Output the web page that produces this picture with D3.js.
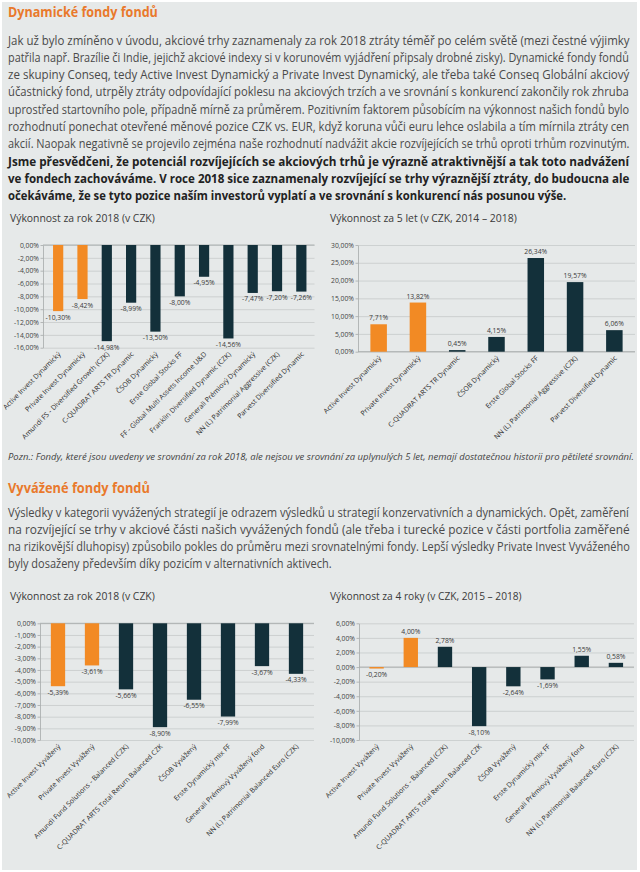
<!DOCTYPE html>
<html>
<head>
<meta charset="utf-8">
<title>Dynamické a vyvážené fondy fondů</title>
<style>
  body { margin: 0; background: #fff; font-family: "Open Sans", sans-serif; }
  svg { display: block; }
  .grid line { stroke: #c6caca; stroke-width: 0.8; }
  .grid .domain { display: none; }
  .axis path, .axis line { stroke: #a6aaaa; stroke-width: 0.8; }
  .axis text { fill: #444; font-size: 6.8px; font-family: "Open Sans", sans-serif; }
</style>
<script src="https://cdn.jsdelivr.net/npm/d3@7"></script>
</head>
<body>
<script>
// ---- texty ----
var dynText = [
  "Jak už bylo zmíněno v úvodu, akciové trhy zaznamenaly za rok 2018 ztráty téměř po celém světě (mezi čestné výjimky",
  "patřila např. Brazílie či Indie, jejichž akciové indexy si v korunovém vyjádření připsaly drobné zisky). Dynamické fondy fondů",
  "ze skupiny Conseq, tedy Active Invest Dynamický a Private Invest Dynamický, ale třeba také Conseq Globální akciový",
  "účastnický fond, utrpěly ztráty odpovídající poklesu na akciových trzích a ve srovnání s konkurencí zakončily rok zhruba",
  "uprostřed startovního pole, případně mírně za průměrem. Pozitivním faktorem působícím na výkonnost našich fondů bylo",
  "rozhodnutí ponechat otevřené měnové pozice CZK vs. EUR, když koruna vůči euru lehce oslabila a tím mírnila ztráty cen",
  "akcií. Naopak negativně se projevilo zejména naše rozhodnutí nadvážit akcie rozvíjejících se trhů oproti trhům rozvinutým."
]
var dynBold = [
  "Jsme přesvědčeni, že potenciál rozvíjejících se akciových trhů je výrazně atraktivnější a tak toto nadvážení",
  "ve fondech zachováváme. V roce 2018 sice zaznamenaly rozvíjející se trhy výraznější ztráty, do budoucna ale",
  "očekáváme, že se tyto pozice naším investorů vyplatí a ve srovnání s konkurencí nás posunou výše."
]
var note = "Pozn.: Fondy, které jsou uvedeny ve srovnání za rok 2018, ale nejsou ve srovnání za uplynulých 5 let, nemají dostatečnou historii pro pětileté srovnání."
var balText = [
  "Výsledky v kategorii vyvážených strategií je odrazem výsledků u strategií konzervativních a dynamických. Opět, zaměření",
  "na rozvíjející se trhy v akciové části našich vyvážených fondů (ale třeba i turecké pozice v části portfolia zaměřené",
  "na rizikovější dluhopisy) způsobilo pokles do průměru mezi srovnatelnými fondy. Lepší výsledky Private Invest Vyváženého",
  "byly dosaženy především díky pozicím v alternativních aktivech."
]

// ---- data grafů ----
var dyn2018Names = ["Active Invest Dynamický", "Private Invest Dynamický", "Amundi FS - Diversified Growth (CZK)",
  "C-QUADRAT ARTS TR Dynamic", "ČSOB Dynamický", "Erste Global Stocks FF", "FF - Global Multi Assets Income U&D",
  "Franklin Diversified Dynamic (CZK)", "Generali Prémiový Dynamický", "NN (L) Patrimonial Aggressive (CZK)",
  "Parvest Diversified Dynamic"]
var dyn2018Values = [-10.30, -8.42, -14.98, -8.99, -13.50, -8.00, -4.95, -14.56, -7.47, -7.20, -7.26]
var dyn2018Ticks = [0, -2, -4, -6, -8, -10, -12, -14, -16]

var dyn5yNames = ["Active Invest Dynamický", "Private Invest Dynamický", "C-QUADRAT ARTS TR Dynamic",
  "ČSOB Dynamický", "Erste Global Stocks FF", "NN (L) Patrimonial Aggressive (CZK)", "Parvest Diversified Dynamic"]
var dyn5yValues = [7.71, 13.82, 0.45, 4.15, 26.34, 19.57, 6.06]
var dyn5yTicks = [0, 5, 10, 15, 20, 25, 30]

var balNames = ["Active Invest Vyvážený", "Private Invest Vyvážený", "Amundi Fund Solutions - Balanced (CZK)",
  "C-QUADRAT ARTS Total Return Balanced CZK", "ČSOB Vyvážený", "Erste Dynamický mix FF",
  "Generali Prémiový Vyvážený fond", "NN (L) Patrimonial Balanced Euro (CZK)"]
var bal2018Values = [-5.39, -3.61, -5.66, -8.90, -6.55, -7.99, -3.67, -4.33]
var bal2018Ticks = [0, -1, -2, -3, -4, -5, -6, -7, -8, -9, -10]
var bal4yValues = [-0.20, 4.00, 2.78, -8.10, -2.64, -1.69, 1.55, 0.58]
var bal4yTicks = [6, 4, 2, 0, -2, -4, -6, -8, -10]

var orange = "#f28a24"
var dark = "#13303a"
var fmt = function(v){ return v.toFixed(2).replace(".", ",").replace(/^-0,00/, "0,00") + "%" }

var W = 640, H = 872
var svg = d3.select("body").append("svg").attr("width", W).attr("height", H)

// podklad stránky
svg.append("rect").attr("x", 2).attr("y", 2).attr("width", W - 5).attr("height", H - 4).attr("fill", "#e6e9e9")

var lineStep = 17.3
var textW = 622

// zúží text na danou šířku (písmo v originále je úzké)
function fitText(t, x, y, w) {
  var n = t.node().getComputedTextLength()
  t.attr("transform", "translate(" + x + "," + y + ") scale(" + (w / n) + ",1)")
  return w / n
}

// odstavec: řádky srovnané na šířku sloupce, poslední řádek se jen zúží
function textBlock(lines, y0, bold, justifyLast) {
  var ratios = []
  var nodes = lines.map(function(t){
    return svg.append("text")
      .attr("font-size", "12.5px")
      .attr("font-weight", bold ? 700 : 400)
      .attr("fill", bold ? "#222" : "#4a4a4a")
      .text(t)
  })
  nodes.forEach(function(n, i){
    if (i < lines.length - 1 || justifyLast) ratios.push(fitText(n, 8, y0 + i * lineStep, textW))
  })
  if (!justifyLast) {
    var last = nodes[nodes.length - 1]
    var s = d3.mean(ratios) * 0.97
    last.attr("transform", "translate(8," + (y0 + (lines.length - 1) * lineStep) + ") scale(" + s + ",1)")
  }
}

function heading(t, y, w) {
  var h = svg.append("text")
    .attr("font-size", "14.5px").attr("font-weight", 700).attr("fill", "#e9792c")
    .text(t)
  fitText(h, 8, y, w)
}

// nadpisy a texty
heading("Dynamické fondy fondů", 17, 150)
textBlock(dynText, 44.5, false, true)
textBlock(dynBold, 44.5 + 7 * lineStep, true, false)

var pozn = svg.append("text")
  .attr("font-size", "9px").attr("font-style", "italic").attr("fill", "#444")
  .text(note)
fitText(pozn, 8, 460, 626)

heading("Vyvážené fondy fondů", 493, 142)
textBlock(balText, 516.5, false, false)

// sloupcový graf
function barChart(o) {
  var g = svg.append("g")

  var title = g.append("text")
    .attr("font-size", "10.5px").attr("fill", "#3a3a3a")
    .text(o.title)
  fitText(title, o.titleX, o.titleY, o.titleW)

  var x = d3.scaleBand().domain(o.names).range(o.xRange).paddingInner(0.58).paddingOuter(0.29)
  var y = d3.scaleLinear().domain(o.domain).range(o.yRange)
  var left = o.axisX, right = o.xRange[1] + 1

  // mřížka
  g.append("g").attr("class", "grid")
    .attr("transform", "translate(" + left + ",0)")
    .call(d3.axisLeft(y).tickValues(o.ticks).tickSize(-(right - left)).tickFormat(""))

  // osa y
  g.append("g").attr("class", "axis")
    .attr("transform", "translate(" + left + ",0)")
    .call(d3.axisLeft(y).tickValues(o.ticks).tickSizeInner(2.5).tickSizeOuter(0).tickPadding(1.5).tickFormat(fmt))

  // nulová linie
  g.append("line")
    .attr("x1", left).attr("x2", right)
    .attr("y1", y(0)).attr("y2", y(0))
    .attr("stroke", "#a6aaaa").attr("stroke-width", 0.9)

  // sloupce
  g.selectAll("rect.bar").data(o.values).enter().append("rect")
    .attr("class", "bar")
    .attr("x", function(d, i){ return x(o.names[i]) })
    .attr("width", x.bandwidth())
    .attr("y", function(d){ return Math.min(y(d), y(0)) })
    .attr("height", function(d){ return Math.abs(y(d) - y(0)) })
    .attr("fill", function(d, i){ return i < 2 ? orange : dark })

  // popisky hodnot
  g.selectAll("text.val").data(o.values).enter().append("text")
    .attr("class", "val")
    .attr("x", function(d, i){ return x(o.names[i]) + x.bandwidth() / 2 })
    .attr("y", function(d){ return d < 0 ? y(d) + 8.5 : y(d) - 4 })
    .attr("text-anchor", "middle")
    .attr("font-size", "6.8px").attr("fill", "#3a3a3a")
    .text(fmt)

  // popisky kategorií
  var bottom = y(o.domain[0])
  g.selectAll("text.cat").data(o.names).enter().append("text")
    .attr("class", "cat")
    .attr("transform", function(d){
      return "translate(" + (x(d) + x.bandwidth() / 2 + 3) + "," + (bottom + 7) + ") rotate(-45)"
    })
    .attr("text-anchor", "end")
    .attr("font-size", "7px").attr("fill", "#2a2a2a")
    .text(function(d){ return d })
}

barChart({
  title: "Výkonnost za rok 2018 (v CZK)", titleX: 10, titleY: 222, titleW: 145,
  names: dyn2018Names, values: dyn2018Values, ticks: dyn2018Ticks,
  domain: [-16, 0], yRange: [347.7, 245], xRange: [46, 313.5], axisX: 43
})
barChart({
  title: "Výkonnost za 5 let (v CZK, 2014 – 2018)", titleX: 330, titleY: 222, titleW: 187,
  names: dyn5yNames, values: dyn5yValues, ticks: dyn5yTicks,
  domain: [0, 30], yRange: [351.7, 245], xRange: [359, 634], axisX: 358
})
barChart({
  title: "Výkonnost za rok 2018 (v CZK)", titleX: 10, titleY: 600, titleW: 145,
  names: balNames, values: bal2018Values, ticks: bal2018Ticks,
  domain: [-10, 0], yRange: [740, 623.3], xRange: [41, 313], axisX: 40
})
barChart({
  title: "Výkonnost za 4 roky (v CZK, 2015 – 2018)", titleX: 330, titleY: 600, titleW: 192,
  names: balNames, values: bal4yValues, ticks: bal4yTicks,
  domain: [-10, 6], yRange: [740, 623.3], xRange: [359.5, 633], axisX: 359
})
</script>
</body>
</html>
